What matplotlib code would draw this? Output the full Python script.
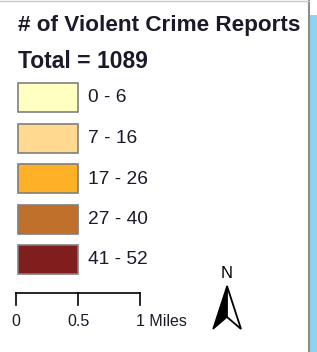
"""
Map legend: violent crime report counts, scale bar and north arrow
"""

import matplotlib.pyplot as plt
from matplotlib.patches import Rectangle, Polygon

plt.rcParams['font.family'] = ['Liberation Sans', 'DejaVu Sans']

# legend content
title = '# of Violent Crime Reports'
total = 1089
class_labels = ['0 - 6', '7 - 16', '17 - 26', '27 - 40', '41 - 52']
class_colors = ['#FFFFC2', '#FED98F', '#FDB126', '#C0702A', '#801E1E']
scale_ticks = [0, 0.5, 1]
scale_tick_labels = ['0', '0.5', '1 Miles']

W, H = 317, 352
fig = plt.figure(figsize=(W / 100, H / 100), dpi=100)
ax = fig.add_axes([0, 0, 1, 1])
ax.set_xlim(0, W)
ax.set_ylim(H, 0)
ax.axis('off')

text_col = '#1a1a2a'

# frame edge and map strip at the right
ax.add_patch(Rectangle((310, 15), 7, H - 15, facecolor='#8fd3f0', edgecolor='none'))
ax.plot([309, 309], [0, H], color='#8c8c8c', linewidth=1.5)
ax.plot([0, 309], [0.5, 0.5], color='#c8c8c8', linewidth=1)

ax.text(18, 25, title, fontsize=16.2, fontweight='bold', color=text_col,
        va='center', ha='left')
ax.text(18, 62, f'Total = {total}', fontsize=16.5, fontweight='bold',
        color=text_col, va='center', ha='left')

# class swatches
y0, step = 83, 40.5
for i, (lab, col) in enumerate(zip(class_labels, class_colors)):
    y = y0 + i * step
    ax.add_patch(Rectangle((18, y), 60, 29, facecolor=col,
                           edgecolor='#7f7f7f', linewidth=1.2))
    ax.text(88, y + 15, lab, fontsize=13.8, color=text_col,
            va='center', ha='left')

# scale bar
x_left, x_right = 16, 140
xs = [x_left + t * (x_right - x_left) for t in scale_ticks]
ax.plot([x_left, x_right], [293, 293], color='black', linewidth=1.2)
for x, lab in zip(xs, scale_tick_labels):
    ax.plot([x, x], [293, 305], color='black', linewidth=1.2)
    if lab.endswith('Miles'):
        ax.text(x - 4, 321, lab, fontsize=11.5, color=text_col,
                va='center', ha='left')
    else:
        ax.text(x, 321, lab, fontsize=11.5, color=text_col,
                va='center', ha='center')

# north arrow
ax.text(227, 274, 'N', fontsize=12, color='black', ha='center', va='center')
ax.add_patch(Polygon([(227, 286), (213, 329), (227, 317)], closed=True,
                     facecolor='black', edgecolor='black', linewidth=1))
ax.add_patch(Polygon([(227, 286), (241, 329), (227, 317)], closed=True,
                     facecolor='white', edgecolor='black', linewidth=1.3))

fig.savefig('out.png', dpi=100)
